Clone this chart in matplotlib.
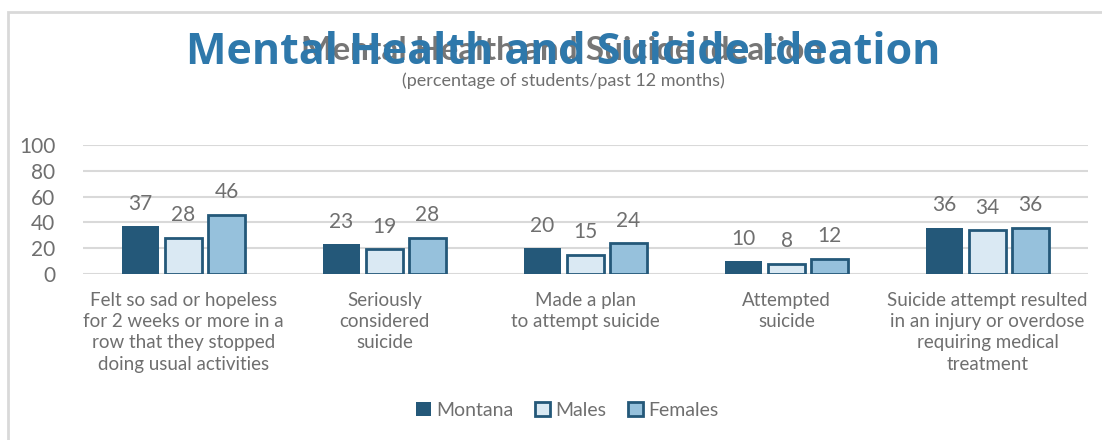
import matplotlib
matplotlib.use("Agg")
import matplotlib.pyplot as plt
import matplotlib.patches as mpatches
import numpy as np

categories = [
    "Felt so sad or hopeless\nfor 2 weeks or more in a\nrow that they stopped\ndoing usual activities",
    "Seriously\nconsidered\nsuicide",
    "Made a plan\nto attempt suicide",
    "Attempted\nsuicide",
    "Suicide attempt resulted\nin an injury or overdose\nrequiring medical\ntreatment",
]
series_names = ["Montana", "Males", "Females"]
montana = [37, 23, 20, 10, 36]
males = [28, 19, 15, 8, 34]
females = [46, 28, 24, 12, 36]
yticks = [0, 20, 40, 60, 80, 100]

font = "Lato"
gray = "#6f6f6f"
fills = ["#245879", "#dae9f3", "#96c1dc"]
edge = "#245879"

fig = plt.figure(figsize=(11.02, 4.4), dpi=100)
ax = fig.add_axes([83/1102, 1-274/440, 1005/1102, 129/440])

x = np.arange(len(categories))
w = 0.18
step = 0.214
for i, (vals, name) in enumerate(zip([montana, males, females], series_names)):
    pos = x + (i - 1) * step
    lw = 0 if i == 0 else 2.0
    ax.bar(pos, vals, width=w, color=fills[i], edgecolor=edge, linewidth=lw, label=name, zorder=3)
    for p, v in zip(pos, vals):
        ax.annotate(str(v), (p, v), xytext=(0, 9), textcoords="offset points",
                    ha="center", va="bottom", fontsize=15, color=gray, family=font)

ax.set_xlim(-0.5, len(categories) - 0.5)
ax.set_ylim(0, 100)
ax.set_yticks(yticks)
ax.set_yticklabels([str(t) for t in yticks], fontsize=15, color=gray, family=font)
ax.yaxis.grid(True, color="#d9d9d9", linewidth=1.5, zorder=0)
ax.set_xticks(x)
ax.set_xticklabels(categories, fontsize=13.5, color=gray, family=font, linespacing=1.3)
ax.tick_params(axis="both", length=0)
ax.tick_params(axis="x", pad=13)
ax.tick_params(axis="y", pad=20)
for s in ax.spines.values():
    s.set_visible(False)

# chart frame
fig.add_artist(mpatches.Rectangle((8/1102, -0.1), 1.2, (1-12/440)+0.1, transform=fig.transFigure,
                                  fill=False, edgecolor="#d9d9d9", linewidth=2))

# titles (the reference shows two overlapping titles)
fig.text(0.51, 1-50/440, "Mental Health and Suicide Ideation", ha="center", va="center",
         fontsize=24, fontweight="bold", color="#767676", family=font)
fig.text(0.511, 1-52/440, "Mental Health and Suicide Ideation", ha="center", va="center",
         fontsize=31, fontweight="bold", color="#2e78ab", family="Open Sans")
fig.text(0.511, 1-81/440, "(percentage of students/past 12 months)", ha="center", va="center",
         fontsize=13, color=gray, family=font)

handles = [mpatches.Patch(facecolor=fills[i], edgecolor=edge, linewidth=0 if i == 0 else 2, label=n)
           for i, n in enumerate(series_names)]
fig.legend(handles=handles, loc="center", bbox_to_anchor=(0.515, 1-410/440), ncol=3, frameon=False,
           prop={"family": font, "size": 14}, labelcolor=gray, handlelength=0.75, handleheight=0.75,
           handletextpad=0.3, columnspacing=1.1)

fig.savefig("out.png", dpi=100)
